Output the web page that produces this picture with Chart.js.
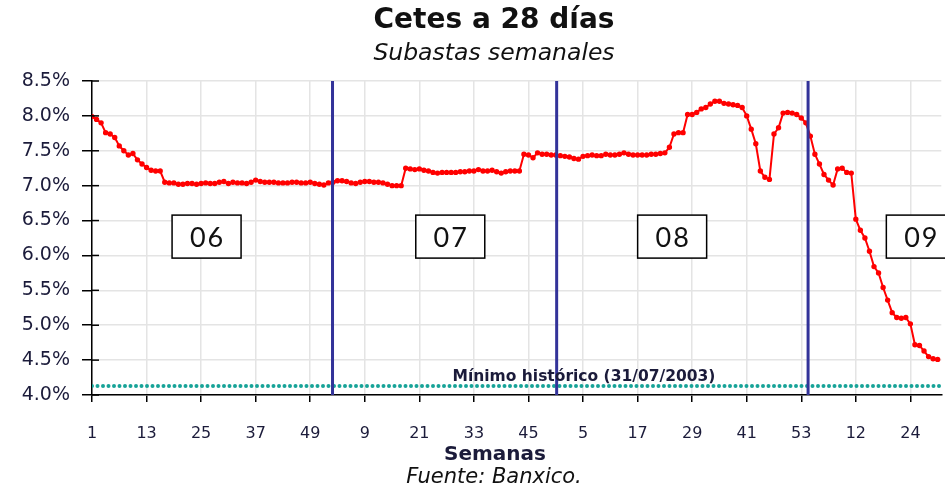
<!DOCTYPE html>
<html lang="es">
<head>
<meta charset="utf-8">
<title>Cetes a 28 días</title>
<script src="https://cdn.jsdelivr.net/npm/chart.js@4.4.1/dist/chart.umd.min.js"></script>
<style>
  html, body { margin: 0; padding: 0; background: #fff; }
  #wrap { width: 945px; height: 487px; }
</style>
</head>
<body>
<div id="wrap"><canvas id="cetesChart" width="945" height="487"></canvas></div>
<script>
// Cetes a 28 dias, tasa de la subasta semanal (%), una lista por año
const rates2006 = [
  7.99, 7.95, 7.90, 7.76, 7.74, 7.69, 7.57, 7.50, 7.44, 7.46,
  7.37, 7.31, 7.26, 7.22, 7.21, 7.21, 7.05, 7.04, 7.04, 7.02,
  7.02, 7.03, 7.03, 7.02, 7.03, 7.04, 7.03, 7.03, 7.05, 7.06,
  7.03, 7.05, 7.04, 7.04, 7.03, 7.05, 7.08, 7.06, 7.05, 7.05,
  7.05, 7.04, 7.04, 7.04, 7.05, 7.05, 7.04, 7.04, 7.05, 7.03,
  7.02, 7.01
];
const rates2007 = [
  7.04, 7.05, 7.07, 7.07, 7.06, 7.04, 7.03, 7.05, 7.06, 7.06,
  7.05, 7.05, 7.04, 7.02, 7.00, 7.00, 7.00, 7.25, 7.24, 7.23,
  7.24, 7.22, 7.21, 7.19, 7.18, 7.19, 7.19, 7.19, 7.19, 7.20,
  7.20, 7.21, 7.21, 7.23, 7.21, 7.21, 7.22, 7.20, 7.18, 7.20,
  7.21, 7.21, 7.21, 7.45, 7.44, 7.40, 7.47, 7.45, 7.45, 7.44,
  7.44, 7.43
];
const rates2008 = [
  7.42, 7.41, 7.39, 7.38, 7.42, 7.43, 7.44, 7.43, 7.43, 7.45,
  7.44, 7.44, 7.45, 7.47, 7.45, 7.44, 7.44, 7.44, 7.44, 7.45,
  7.45, 7.46, 7.47, 7.55, 7.74, 7.76, 7.76, 8.02, 8.02, 8.05,
  8.10, 8.12, 8.17, 8.21, 8.21, 8.18, 8.17, 8.16, 8.15, 8.12,
  8.00, 7.81, 7.60, 7.21, 7.12, 7.09, 7.74, 7.83, 8.04, 8.05,
  8.04, 8.02, 7.97
];
const rates2009 = [
  7.90, 7.71, 7.45, 7.31, 7.16, 7.08, 7.01, 7.24, 7.25, 7.19,
  7.18, 6.52, 6.36, 6.25, 6.06, 5.84, 5.75, 5.54, 5.36, 5.18,
  5.11, 5.10, 5.11, 5.02, 4.72, 4.71, 4.63, 4.55, 4.52, 4.51
];
const yearLabels = ['06', '07', '08', '09'];
// separadores de año tal como aparecen en la gráfica (en semanas corridas)
const yearBreaks = [52.9, 102.2, 157.5];
const minimoHistorico = 4.13;
const minimoLabel = 'Mínimo histórico (31/07/2003)';

const yearSeries = [rates2006, rates2007, rates2008, rates2009];
const weekNumbers = [];
const rates = [];
yearSeries.forEach(list => {
  list.forEach((v, i) => {
    weekNumbers.push(i + 1);
    rates.push(v);
  });
});
const lastIdx = rates.length - 1;
const xMax = 186.8;

const navy = '#1b1b3a';
const wideFont = '"DejaVu Sans", Verdana, sans-serif';
const boxFont = 'Lato, "Open Sans", sans-serif';

// Titulos, separadores, etiquetas de año y minimo historico
const decorations = {
  id: 'decorations',
  afterDatasetsDraw(chart) {
    const { ctx, chartArea, scales: { x, y } } = chart;
    ctx.save();

    // pequeñas marcas hacia dentro del eje Y
    ctx.strokeStyle = '#000';
    ctx.lineWidth = 1.5;
    y.ticks.forEach(t => {
      const py = y.getPixelForValue(t.value);
      ctx.beginPath();
      ctx.moveTo(chartArea.left, py);
      ctx.lineTo(chartArea.left + 7, py);
      ctx.stroke();
    });

    // lineas verticales entre años
    ctx.strokeStyle = '#333399';
    ctx.lineWidth = 3;
    yearBreaks.forEach(b => {
      const px = x.getPixelForValue(b);
      ctx.beginPath();
      ctx.moveTo(px, chartArea.top);
      ctx.lineTo(px, chartArea.bottom);
      ctx.stroke();
    });

    // texto del minimo historico
    ctx.fillStyle = navy;
    ctx.font = 'bold 15.5px ' + wideFont;
    ctx.textAlign = 'center';
    ctx.textBaseline = 'middle';
    ctx.fillText(minimoLabel, x.getPixelForValue(108.2), y.getPixelForValue(minimoHistorico) - 9);

    // recuadros con el año
    const boxX = [25.2, 78.8, 127.6, 182.3];
    yearLabels.forEach((lab, i) => {
      const cx = x.getPixelForValue(boxX[i]);
      const cy = y.getPixelForValue(6.27);
      ctx.fillStyle = '#fff';
      ctx.fillRect(cx - 34.5, cy - 21.5, 69, 43);
      ctx.strokeStyle = '#000';
      ctx.lineWidth = 1.5;
      ctx.strokeRect(cx - 34.5, cy - 21.5, 69, 43);
      ctx.fillStyle = '#111';
      ctx.font = '27px ' + boxFont;
      ctx.letterSpacing = '2px';
      ctx.textAlign = 'center';
      ctx.textBaseline = 'middle';
      ctx.fillText(lab, cx + 1, cy + 2);
      ctx.letterSpacing = '0px';
    });

    // titulos y notas
    const cxText = 494;
    ctx.fillStyle = '#111';
    ctx.textAlign = 'center';
    ctx.textBaseline = 'middle';
    ctx.font = 'bold 28px ' + wideFont;
    ctx.fillText('Cetes a 28 días', cxText, 21);
    ctx.font = 'oblique 23.5px ' + wideFont;
    ctx.fillText('Subastas semanales', cxText, 54);
    ctx.fillStyle = navy;
    ctx.font = 'bold 20px ' + wideFont;
    ctx.fillText('Semanas', cxText + 1, 455);
    ctx.fillStyle = '#111';
    ctx.font = 'oblique 21px ' + wideFont;
    ctx.fillText('Fuente: Banxico.', cxText, 478);
    ctx.restore();
  }
};

const ctx = document.getElementById('cetesChart').getContext('2d');
new Chart(ctx, {
  type: 'line',
  data: {
    datasets: [
      {
        label: 'Cetes 28 días',
        data: rates.map((v, i) => ({ x: i, y: v })),
        borderColor: '#ff0000',
        backgroundColor: '#ff0000',
        borderWidth: 2,
        pointRadius: 1.7,
        pointHoverRadius: 1.7,
        tension: 0
      },
      {
        label: 'Mínimo histórico',
        data: [{ x: 0, y: minimoHistorico }, { x: xMax, y: minimoHistorico }],
        borderColor: '#17a398',
        borderWidth: 4,
        borderDash: [0, 5.5],
        borderCapStyle: 'round',
        pointRadius: 0
      }
    ]
  },
  options: {
    responsive: false,
    animation: false,
    layout: { padding: { top: 81, right: 0, bottom: 0, left: 0 } },
    plugins: {
      legend: { display: false },
      tooltip: { enabled: false }
    },
    scales: {
      x: {
        type: 'linear',
        min: 0,
        max: xMax,
        afterBuildTicks: scale => {
          const t = [];
          for (let v = 0; v <= lastIdx; v += 12) t.push({ value: v });
          scale.ticks = t;
        },
        afterFit: scale => { scale.height = 92; },
        ticks: {
          autoSkip: false,
          maxRotation: 0,
          padding: 22,
          color: navy,
          font: { family: wideFont, size: 16 },
          callback: v => weekNumbers[v]
        },
        grid: { color: '#e4e4e4', lineWidth: 1.5, tickLength: 7, tickColor: '#000' },
        border: { color: '#000', width: 1.5 }
      },
      y: {
        min: 4,
        max: 8.5,
        afterFit: scale => { scale.width = 92; },
        ticks: {
          stepSize: 0.5,
          padding: 12,
          color: navy,
          font: { family: wideFont, size: 19 },
          callback: v => v.toFixed(1) + '%'
        },
        grid: { color: '#e4e4e4', lineWidth: 1.5, tickLength: 10, tickColor: '#000' },
        border: { color: '#000', width: 1.5 }
      }
    }
  },
  plugins: [decorations]
});
</script>
</body>
</html>
